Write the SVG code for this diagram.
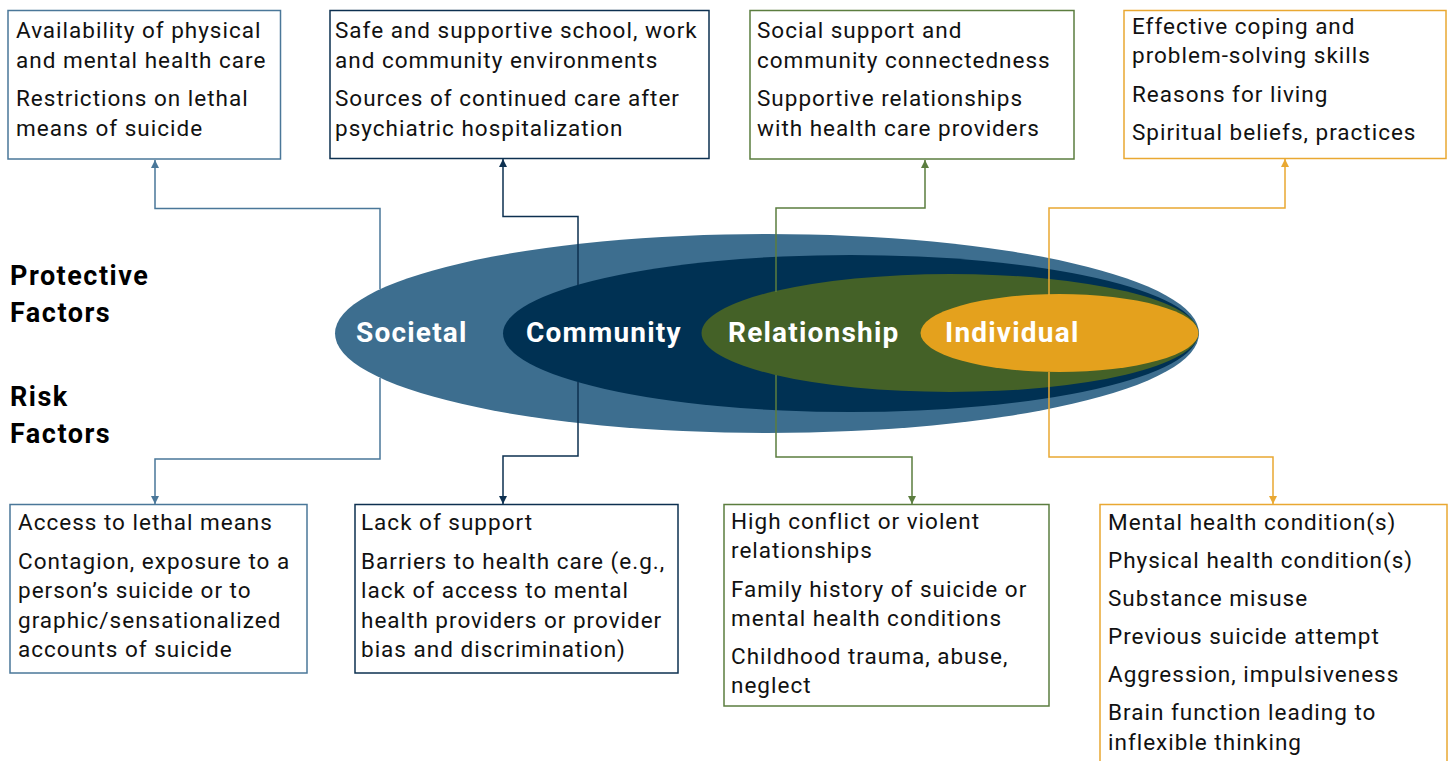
<svg xmlns="http://www.w3.org/2000/svg" width="1450" height="761" viewBox="0 0 1450 761">
<style>
.bx{fill:#fff;stroke-width:1.5}
.t{font-family:Roboto,"Liberation Sans",sans-serif;font-size:22.5px;letter-spacing:1px;fill:#111}
.h{font-family:Roboto,"Liberation Sans",sans-serif;font-size:27px;letter-spacing:1.5px;font-weight:bold;fill:#000}
.el{font-family:Roboto,"Liberation Sans",sans-serif;font-size:28px;letter-spacing:1.2px;font-weight:bold;fill:#fff}
.c{fill:none;stroke-width:1.5}
.s1{stroke:#4a7799}.s2{stroke:#0d3050}.s3{stroke:#5b7d3f}.s4{stroke:#e9a832}
</style>
<defs>
<marker id="a1" viewBox="0 0 10 10" refX="10" refY="5" markerWidth="8" markerHeight="8" markerUnits="userSpaceOnUse" orient="auto"><path d="M0,0L10,5L0,10z" fill="#4a7799"/></marker>
<marker id="a2" viewBox="0 0 10 10" refX="10" refY="5" markerWidth="8" markerHeight="8" markerUnits="userSpaceOnUse" orient="auto"><path d="M0,0L10,5L0,10z" fill="#0d3050"/></marker>
<marker id="a3" viewBox="0 0 10 10" refX="10" refY="5" markerWidth="8" markerHeight="8" markerUnits="userSpaceOnUse" orient="auto"><path d="M0,0L10,5L0,10z" fill="#5b7d3f"/></marker>
<marker id="a4" viewBox="0 0 10 10" refX="10" refY="5" markerWidth="8" markerHeight="8" markerUnits="userSpaceOnUse" orient="auto"><path d="M0,0L10,5L0,10z" fill="#e9a832"/></marker>
</defs>
<rect width="1450" height="761" fill="#fff"/>

<g id="labels">
<text class="h" x="10" y="285">Protective</text>
<text class="h" x="10" y="322">Factors</text>
<text class="h" x="10" y="406">Risk</text>
<text class="h" x="10" y="443">Factors</text>
</g>

<g id="levels">
<g id="societal"><ellipse cx="767" cy="333.5" rx="432" ry="99.5" fill="#3d6e8f"/><text class="el" x="356" y="342">Societal</text></g>
<g id="community"><ellipse cx="850.5" cy="333.5" rx="347.5" ry="78.5" fill="#003153"/><text class="el" x="526" y="342">Community</text></g>
<g id="relationship"><ellipse cx="950" cy="333" rx="248.5" ry="59" fill="#446127"/><text class="el" x="728" y="342">Relationship</text></g>
<g id="individual"><ellipse cx="1059.5" cy="333" rx="139" ry="39" fill="#e4a11d"/><text class="el" x="945" y="342">Individual</text></g>
</g>

<g id="connectors">
<path class="c s1" d="M380,289 V208.5 H155 V160" marker-end="url(#a1)"/>
<path class="c s1" d="M380,378 V459 H155 V504" marker-end="url(#a1)"/>
<path class="c s2" d="M578,285 V216.5 H503 V159" marker-end="url(#a2)"/>
<path class="c s2" d="M578,382 V456 H503 V504" marker-end="url(#a2)"/>
<path class="c s3" d="M776,292 V208 H925 V160" marker-end="url(#a3)"/>
<path class="c s3" d="M776,375 V457 H912 V504" marker-end="url(#a3)"/>
<path class="c s4" d="M1049,295 V208 H1285 V159" marker-end="url(#a4)"/>
<path class="c s4" d="M1049,372 V457 H1273 V504" marker-end="url(#a4)"/>
</g>

<g id="p-societal">
<rect class="bx s1" x="8" y="10.5" width="272.5" height="148.5"/>
<text class="t" x="16" y="38">Availability of physical</text>
<text class="t" x="16" y="68">and mental health care</text>
<text class="t" x="16" y="106">Restrictions on lethal</text>
<text class="t" x="16" y="136">means of suicide</text>
</g>
<g id="p-community">
<rect class="bx s2" x="330" y="10.5" width="379" height="148"/>
<text class="t" x="335" y="38">Safe and supportive school, work</text>
<text class="t" x="335" y="68">and community environments</text>
<text class="t" x="335" y="106">Sources of continued care after</text>
<text class="t" x="335" y="136">psychiatric hospitalization</text>
</g>
<g id="p-relationship">
<rect class="bx s3" x="750" y="10.5" width="324" height="148.5"/>
<text class="t" x="757" y="38">Social support and</text>
<text class="t" x="757" y="68">community connectedness</text>
<text class="t" x="757" y="106">Supportive relationships</text>
<text class="t" x="757" y="136">with health care providers</text>
</g>
<g id="p-individual">
<rect class="bx s4" x="1124" y="10.5" width="322" height="148"/>
<text class="t" x="1132" y="34">Effective coping and</text>
<text class="t" x="1132" y="63">problem-solving skills</text>
<text class="t" x="1132" y="102">Reasons for living</text>
<text class="t" x="1132" y="140">Spiritual beliefs, practices</text>
</g>

<g id="r-societal">
<rect class="bx s1" x="10" y="504.5" width="297" height="168.5"/>
<text class="t" x="18" y="530">Access to lethal means</text>
<text class="t" x="18" y="569">Contagion, exposure to a</text>
<text class="t" x="18" y="598">person’s suicide or to</text>
<text class="t" x="18" y="628">graphic/sensationalized</text>
<text class="t" x="18" y="657">accounts of suicide</text>
</g>
<g id="r-community">
<rect class="bx s2" x="355" y="504.5" width="323" height="168.5"/>
<text class="t" x="361" y="530">Lack of support</text>
<text class="t" x="361" y="569">Barriers to health care (e.g.,</text>
<text class="t" x="361" y="598">lack of access to mental</text>
<text class="t" x="361" y="628">health providers or provider</text>
<text class="t" x="361" y="657">bias and discrimination)</text>
</g>
<g id="r-relationship">
<rect class="bx s3" x="724" y="504.5" width="325" height="201.5"/>
<text class="t" x="731" y="529">High conflict or violent</text>
<text class="t" x="731" y="558">relationships</text>
<text class="t" x="731" y="597">Family history of suicide or</text>
<text class="t" x="731" y="626">mental health conditions</text>
<text class="t" x="731" y="664">Childhood trauma, abuse,</text>
<text class="t" x="731" y="693">neglect</text>
</g>
<g id="r-individual">
<rect class="bx s4" x="1100" y="504.5" width="347" height="270"/>
<text class="t" x="1108" y="530">Mental health condition(s)</text>
<text class="t" x="1108" y="568">Physical health condition(s)</text>
<text class="t" x="1108" y="606">Substance misuse</text>
<text class="t" x="1108" y="644">Previous suicide attempt</text>
<text class="t" x="1108" y="682">Aggression, impulsiveness</text>
<text class="t" x="1108" y="720">Brain function leading to</text>
<text class="t" x="1108" y="750">inflexible thinking</text>
</g>
</svg>
